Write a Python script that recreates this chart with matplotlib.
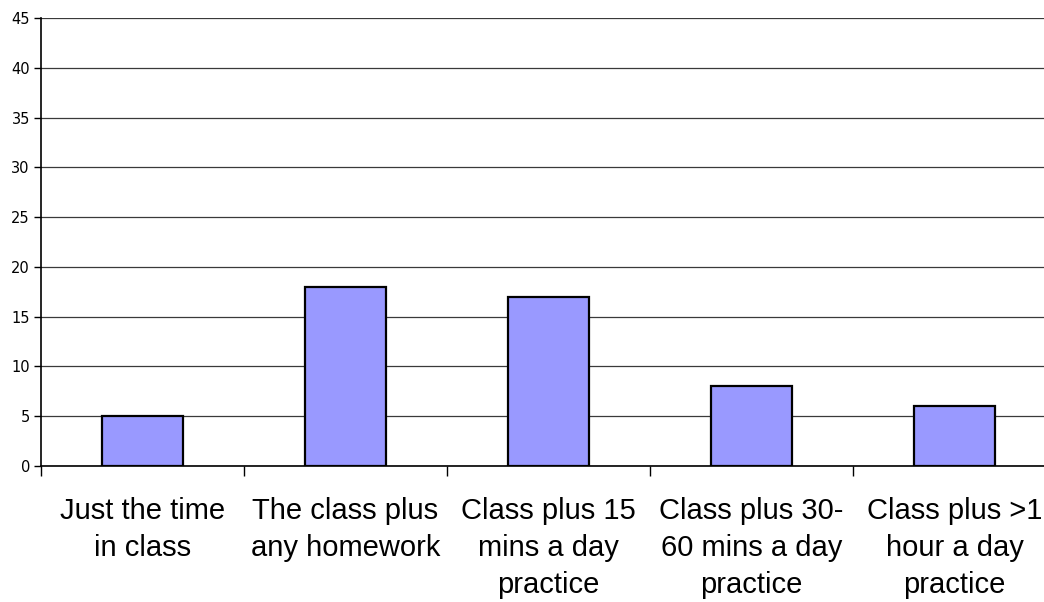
import matplotlib
matplotlib.use("Agg")
import matplotlib.pyplot as plt
from matplotlib.ticker import FixedLocator, NullFormatter

categories = ["Just the time\nin class", "The class plus\nany homework",
              "Class plus 15\nmins a day\npractice", "Class plus 30-\n60 mins a day\npractice",
              "Class plus >1\nhour a day\npractice"]
values = [5, 18, 17, 8, 6]
yticks = [0, 5, 10, 15, 20, 25, 30, 35, 40, 45]

fig = plt.figure(figsize=(10.44, 6.02), dpi=100)
ax = fig.add_axes([41/1044, 1-466/602, 1015/1044, (466-18)/602])

x = list(range(len(values)))
ax.bar(x, values, width=0.4, color="#9999FF", edgecolor="black", linewidth=1.6, zorder=3)
ax.set_xlim(-0.5, len(values)-0.5)
ax.set_ylim(0, 45)
ax.set_yticks(yticks)
ax.set_yticklabels([str(v) for v in yticks], fontsize=10.5, family="DejaVu Sans")
ax.yaxis.grid(True, color="#3a3a3a", linewidth=0.9, zorder=0)
ax.set_axisbelow(True)

ax.xaxis.set_major_locator(FixedLocator([i - 0.5 for i in range(len(values)+1)]))
ax.xaxis.set_major_formatter(NullFormatter())
ax.tick_params(axis="x", length=7, width=1, color="black", direction="out")
ax.tick_params(axis="y", length=5, width=1, color="black", direction="out", pad=3)

for i, lab in enumerate(categories):
    ax.text(i, -3.1, lab, ha="center", va="top", fontsize=21,
            family="Liberation Sans", linespacing=1.42,
            transform=ax.transData, clip_on=False)

for s in ["top", "right"]:
    ax.spines[s].set_visible(False)
ax.spines["left"].set_linewidth(1.2)
ax.spines["bottom"].set_linewidth(1.2)

fig.savefig("out.png", dpi=100)
